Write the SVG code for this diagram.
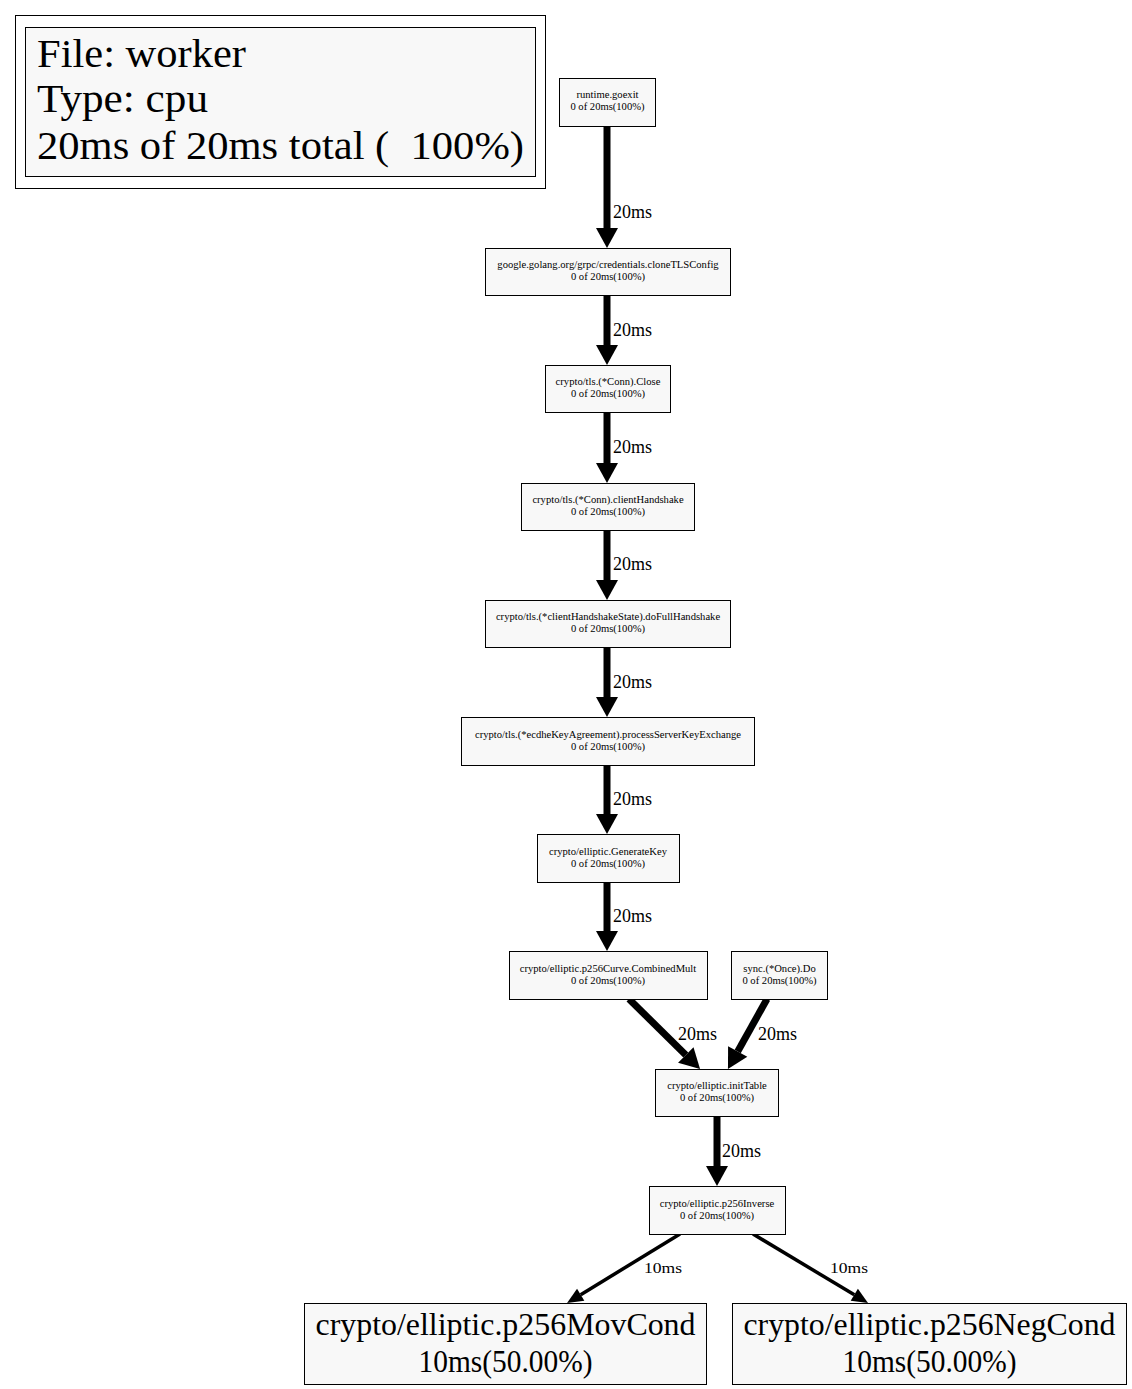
<svg xmlns="http://www.w3.org/2000/svg" width="1132" height="1389" viewBox="0 0 1132 1389">
  <style>
    text { font-family: "Liberation Serif", "Times New Roman", serif; fill: #000; }
    .box { fill: #f8f8f8; stroke: #000; stroke-width: 1; }
    .small { font-size: 10.6px; text-anchor: middle; }
    .big { font-size: 32px; text-anchor: middle; }
    .legend { font-size: 40px; }
    .elabel { font-size: 18px; }
    .elabel-s { font-size: 14px; }
    .thick { stroke: #000; stroke-width: 7; fill: none; marker-end: url(#headThick); }
    .thin { stroke: #000; stroke-width: 3.5; fill: none; marker-end: url(#headThin); }
  </style>
  <defs>
    <marker id="headThick" markerUnits="userSpaceOnUse" viewBox="0 -11 20 22" markerWidth="20" markerHeight="22" refX="0" refY="0" orient="auto" overflow="visible">
      <path d="M0,-11 L20,0 L0,11 z" fill="#000"/>
    </marker>
    <marker id="headThin" markerUnits="userSpaceOnUse" viewBox="0 -7 16 14" markerWidth="16" markerHeight="14" refX="0" refY="0" orient="auto" overflow="visible">
      <path d="M0,-7 L16,0 L0,7 z" fill="#000"/>
    </marker>
  </defs>
  <rect width="1132" height="1389" fill="#fff"/>

  <!-- legend -->
  <g id="legend">
    <rect x="15.5" y="15.5" width="530" height="173" fill="#fff" stroke="#000"/>
    <rect x="25.5" y="27.5" width="510" height="149" class="box"/>
    <text class="legend" x="37" y="67" textLength="209" lengthAdjust="spacingAndGlyphs">File: worker</text>
    <text class="legend" x="37" y="112" textLength="171" lengthAdjust="spacingAndGlyphs">Type: cpu</text>
    <text class="legend" x="37" y="159" textLength="487" lengthAdjust="spacingAndGlyphs" xml:space="preserve">20ms of 20ms total (  100%)</text>
  </g>

  <!-- connectors -->
  <g id="edges">
    <line class="thick" x1="607" y1="126" x2="607" y2="228"/>
    <text class="elabel" x="613" y="218">20ms</text>
    <line class="thick" x1="607" y1="296" x2="607" y2="345"/>
    <text class="elabel" x="613" y="336">20ms</text>
    <line class="thick" x1="607" y1="412" x2="607" y2="463"/>
    <text class="elabel" x="613" y="453">20ms</text>
    <line class="thick" x1="607" y1="530" x2="607" y2="580"/>
    <text class="elabel" x="613" y="570">20ms</text>
    <line class="thick" x1="607" y1="647" x2="607" y2="697"/>
    <text class="elabel" x="613" y="688">20ms</text>
    <line class="thick" x1="607" y1="765" x2="607" y2="814"/>
    <text class="elabel" x="613" y="805">20ms</text>
    <line class="thick" x1="607" y1="882" x2="607" y2="931"/>
    <text class="elabel" x="613" y="922">20ms</text>
    <line class="thick" x1="629" y1="999" x2="685.8" y2="1055"/>
    <text class="elabel" x="678" y="1040">20ms</text>
    <line class="thick" x1="767" y1="999" x2="737.7" y2="1051.5"/>
    <text class="elabel" x="758" y="1040">20ms</text>
    <line class="thick" x1="717" y1="1116" x2="717" y2="1166"/>
    <text class="elabel" x="722" y="1157">20ms</text>
    <line class="thin" x1="680" y1="1234" x2="580.7" y2="1294.7"/>
    <text class="elabel-s" x="644" y="1273" textLength="38" lengthAdjust="spacingAndGlyphs">10ms</text>
    <line class="thin" x1="753" y1="1234" x2="854.3" y2="1294.8"/>
    <text class="elabel-s" x="830" y="1273" textLength="38" lengthAdjust="spacingAndGlyphs">10ms</text>
  </g>

  <!-- call graph nodes -->
  <g id="n_goexit">
    <rect x="559.5" y="78.5" width="96" height="48" class="box"/>
    <text class="small" x="607.5" y="98">runtime.goexit</text>
    <text class="small" x="607.5" y="110">0 of 20ms(100%)</text>
  </g>
  <g id="n_cloneTLSConfig">
    <rect x="485.5" y="248.5" width="245" height="47" class="box"/>
    <text class="small" x="608" y="268">google.golang.org/grpc/credentials.cloneTLSConfig</text>
    <text class="small" x="608" y="280">0 of 20ms(100%)</text>
  </g>
  <g id="n_close">
    <rect x="545.5" y="365.5" width="125" height="47" class="box"/>
    <text class="small" x="608" y="385">crypto/tls.(*Conn).Close</text>
    <text class="small" x="608" y="397">0 of 20ms(100%)</text>
  </g>
  <g id="n_clientHandshake">
    <rect x="521.5" y="483.5" width="173" height="47" class="box"/>
    <text class="small" x="608" y="503">crypto/tls.(*Conn).clientHandshake</text>
    <text class="small" x="608" y="515">0 of 20ms(100%)</text>
  </g>
  <g id="n_doFullHandshake">
    <rect x="485.5" y="600.5" width="245" height="47" class="box"/>
    <text class="small" x="608" y="620">crypto/tls.(*clientHandshakeState).doFullHandshake</text>
    <text class="small" x="608" y="632">0 of 20ms(100%)</text>
  </g>
  <g id="n_processServerKeyExchange">
    <rect x="461.5" y="717.5" width="293" height="48" class="box"/>
    <text class="small" x="608" y="738">crypto/tls.(*ecdheKeyAgreement).processServerKeyExchange</text>
    <text class="small" x="608" y="750">0 of 20ms(100%)</text>
  </g>
  <g id="n_generateKey">
    <rect x="537.5" y="834.5" width="142" height="48" class="box"/>
    <text class="small" x="608" y="855">crypto/elliptic.GenerateKey</text>
    <text class="small" x="608" y="867">0 of 20ms(100%)</text>
  </g>
  <g id="n_combinedMult">
    <rect x="509.5" y="951.5" width="198" height="48" class="box"/>
    <text class="small" x="608" y="972">crypto/elliptic.p256Curve.CombinedMult</text>
    <text class="small" x="608" y="984">0 of 20ms(100%)</text>
  </g>
  <g id="n_onceDo">
    <rect x="731.5" y="951.5" width="96" height="48" class="box"/>
    <text class="small" x="779.5" y="972">sync.(*Once).Do</text>
    <text class="small" x="779.5" y="984">0 of 20ms(100%)</text>
  </g>
  <g id="n_initTable">
    <rect x="655.5" y="1069.5" width="123" height="47" class="box"/>
    <text class="small" x="717" y="1089">crypto/elliptic.initTable</text>
    <text class="small" x="717" y="1101">0 of 20ms(100%)</text>
  </g>
  <g id="n_p256Inverse">
    <rect x="649.5" y="1186.5" width="136" height="48" class="box"/>
    <text class="small" x="717" y="1207">crypto/elliptic.p256Inverse</text>
    <text class="small" x="717" y="1219">0 of 20ms(100%)</text>
  </g>
  <g id="n_p256MovCond">
    <rect x="304.5" y="1303.5" width="402" height="81" class="box"/>
    <text class="big" x="505.5" y="1335" textLength="380" lengthAdjust="spacingAndGlyphs">crypto/elliptic.p256MovCond</text>
    <text class="big" x="505.5" y="1372" textLength="174" lengthAdjust="spacingAndGlyphs">10ms(50.00%)</text>
  </g>
  <g id="n_p256NegCond">
    <rect x="732.5" y="1303.5" width="394" height="81" class="box"/>
    <text class="big" x="929.5" y="1335" textLength="372" lengthAdjust="spacingAndGlyphs">crypto/elliptic.p256NegCond</text>
    <text class="big" x="929.5" y="1372" textLength="174" lengthAdjust="spacingAndGlyphs">10ms(50.00%)</text>
  </g>
</svg>
